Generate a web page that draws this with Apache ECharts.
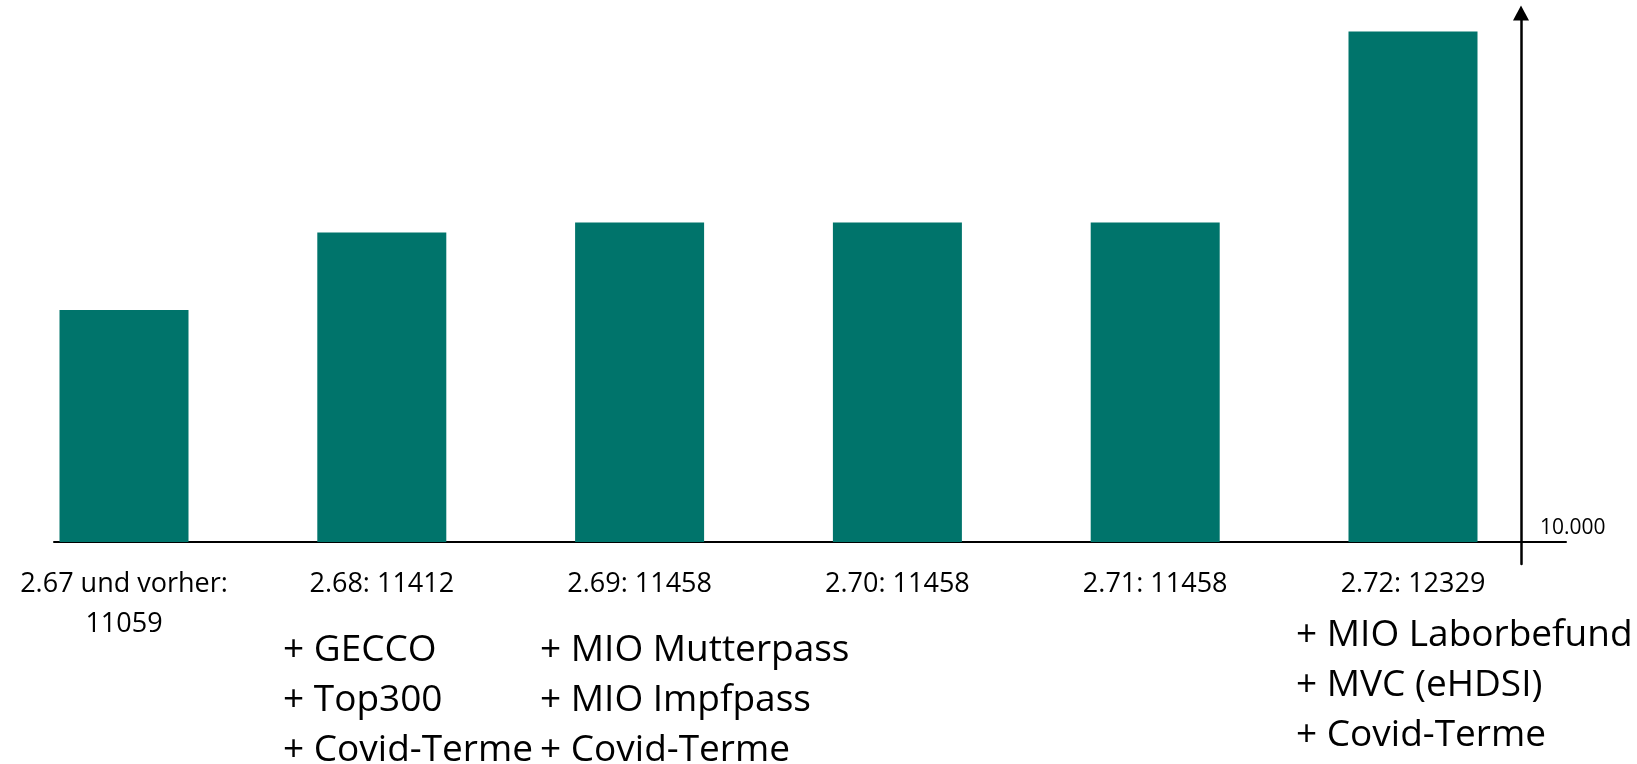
<!DOCTYPE html>
<html>
<head>
<meta charset="utf-8">
<script src="https://cdn.jsdelivr.net/npm/echarts@6/dist/echarts.min.js"></script>
<style>
	html, body { margin: 0; padding: 0; background: #fff; }
	#chart { width: 1637px; height: 764px; }
</style>
</head>
<body>
<div id="chart"></div>
<script>
	// Versionen und Anzahl der Begriffe
	const versions = ['2.67 und vorher:', '2.68:', '2.69:', '2.70:', '2.71:', '2.72:']
	const counts = [11059, 11412, 11458, 11458, 11458, 12329]
	const axisMin = 10000
	const axisMinLabel = '10.000'
	// Ergänzungen je Version
	const notes268 = ['+ GECCO', '+ Top300', '+ Covid-Terme']
	const notes269 = ['+ MIO Mutterpass', '+ MIO Impfpass', '+ Covid-Terme']
	const notes272 = ['+ MIO Laborbefund', '+ MVC (eHDSI)', '+ Covid-Terme']

	const font = '"Open Sans", "Liberation Sans", sans-serif'
	const categories = versions.map((v, i) => i === 0 ? v + '\n' + counts[i] : v + ' ' + counts[i])

	const chart = echarts.init(document.getElementById('chart'))
	const noteText = (lines, left, top) => ({
		type: 'text',
		left: left,
		top: top,
		style: {
			text: lines.join('\n'),
			fontSize: 37,
			fontFamily: font,
			lineHeight: 50,
			fill: '#000'
		}
	})

	const option = {
		backgroundColor: '#fff',
		animation: false,
		grid: [
			// Balken (Kategorien auf den Balkenmitten)
			{ left: 124, right: 224, top: 5, bottom: 222 },
			// Achsenkreuz
			{ left: 54, right: 71, top: 13, bottom: 200 }
		],
		xAxis: [{
			type: 'category',
			gridIndex: 0,
			data: categories,
			boundaryGap: false,
			axisLine: { show: false, onZero: false },
			axisTick: { show: false },
			axisLabel: {
				interval: 0,
				margin: 22,
				fontSize: 27,
				lineHeight: 40,
				fontFamily: font,
				color: '#000'
			}
		}, {
			type: 'value',
			gridIndex: 1,
			min: 0,
			max: 1,
			position: 'bottom',
			offset: -22,
			axisLine: { show: true, onZero: false, lineStyle: { color: '#000', width: 2 } },
			axisTick: { show: false },
			axisLabel: { show: false },
			splitLine: { show: false }
		}],
		yAxis: [{
			type: 'value',
			gridIndex: 0,
			min: axisMin,
			max: 12450,
			interval: 2450,
			position: 'right',
			offset: 128,
			axisLine: { show: false, onZero: false },
			axisTick: { show: false },
			splitLine: { show: false },
			axisLabel: {
				margin: -1,
				fontSize: 21,
				lineHeight: 21,
				padding: [0, 0, 3, 0],
				fontFamily: font,
				color: '#000',
				verticalAlign: 'bottom',
				formatter: v => v === axisMin ? axisMinLabel : ''
			}
		}, {
			type: 'value',
			gridIndex: 1,
			min: 0,
			max: 1,
			position: 'right',
			offset: -45,
			axisLine: {
				show: true,
				onZero: false,
				symbol: ['none', 'triangle'],
				symbolSize: [16, 15],
				lineStyle: { color: '#000', width: 2.5 }
			},
			axisTick: { show: false },
			axisLabel: { show: false },
			splitLine: { show: false }
		}],
		series: [{
			type: 'bar',
			xAxisIndex: 0,
			yAxisIndex: 0,
			data: counts,
			barWidth: 129,
			itemStyle: { color: '#00746b' }
		}],
		graphic: [
			noteText(notes268, 283, 625),
			noteText(notes269, 540, 625),
			noteText(notes272, 1296, 610)
		]
	}
	chart.setOption(option)
</script>
</body>
</html>
